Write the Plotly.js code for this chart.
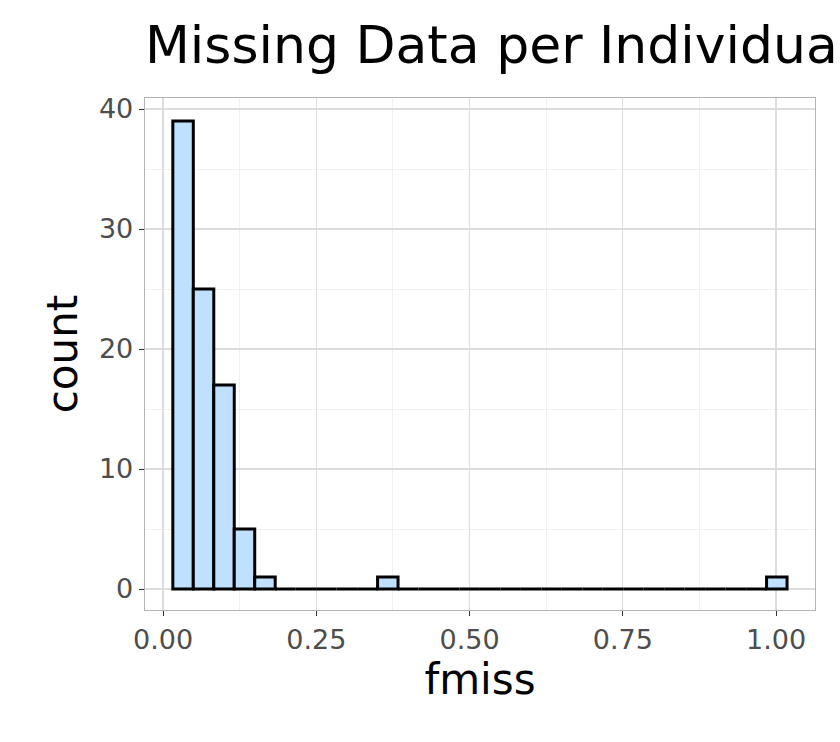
<!DOCTYPE html>
<html><head><meta charset="utf-8">
<script src="https://cdn.plot.ly/plotly-3.0.1.min.js"></script>
<style>body{margin:0}#c{width:840px;height:742px}</style>
</head><body><div id="c"></div>
<script>
const binStart = 0.016;
const binWidth = 0.0334;
const counts = [39,25,17,5,1,0,0,0,0,0,1,0,0,0,0,0,0,0,0,0,0,0,0,0,0,0,0,0,0,1];
const xTicks = [0,0.25,0.5,0.75,1.0];
const xTickText = ["0.00","0.25","0.50","0.75","1.00"];
const yTicks = [0,10,20,30,40];
const centers = counts.map((_,i)=>binStart+binWidth*(i+0.5));
Plotly.newPlot('c',[{
  type:'bar', x:centers, y:counts, width:binWidth,
  marker:{color:'#bfe0ff', line:{color:'black', width:3}}
}],{
  width:840,height:742,
  margin:{l:145,r:25,t:98,b:132},
  paper_bgcolor:'white',plot_bgcolor:'white',
  font:{family:'DejaVu Sans'},
  title:{text:'Missing Data per Individual',x:145/840,xanchor:'left',y:0.94,yanchor:'middle',font:{size:52,color:'black'}},
  xaxis:{range:[-0.0294,1.0636],tickvals:xTicks,ticktext:xTickText,showgrid:true,gridcolor:'#dcdcdc',gridwidth:1.3,
    minor:{tickvals:[0.125,0.375,0.625,0.875],showgrid:true,gridcolor:'#eeeeee',gridwidth:0.8},
    zeroline:false,ticks:'outside',ticklen:5,tickcolor:'#333',tickfont:{size:27,color:'#4d4d4d'},
    showline:true,mirror:true,linecolor:'#b3b3b3',linewidth:1.3,
    title:{text:'fmiss',font:{size:42,color:'black'},standoff:4}},
  yaxis:{range:[-1.75,40.92],tickvals:yTicks,showgrid:true,gridcolor:'#dcdcdc',gridwidth:1.3,
    minor:{tickvals:[5,15,25,35],showgrid:true,gridcolor:'#eeeeee',gridwidth:0.8},
    zeroline:false,ticks:'outside',ticklen:5,tickcolor:'#333',tickfont:{size:27,color:'#4d4d4d'},
    showline:true,mirror:true,linecolor:'#b3b3b3',linewidth:1.3,
    title:{text:'count',font:{size:42,color:'black'},standoff:8}},
  bargap:0,showlegend:false
},{staticPlot:true});
</script></body></html>
